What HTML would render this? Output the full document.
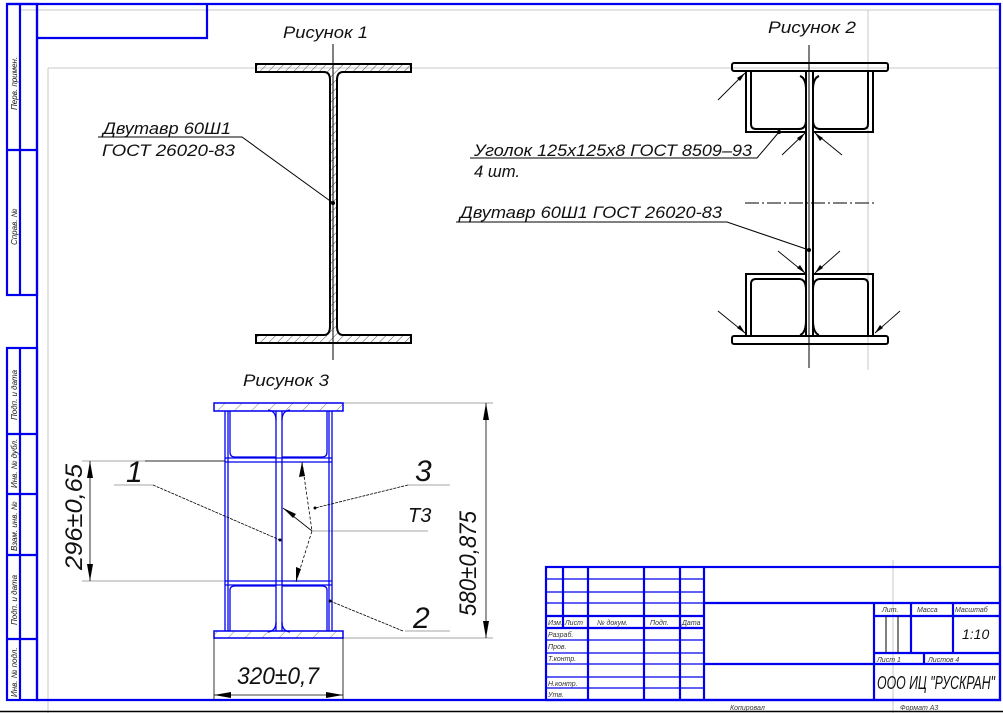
<!DOCTYPE html>
<html><head><meta charset="utf-8"><style>
html,body{margin:0;padding:0;background:#fff;}
svg{display:block;}
text{font-family:"Liberation Sans",sans-serif;font-style:italic;fill:#111;}
.t{font-size:7px;fill:#333;}
</style></head><body>
<svg width="1003" height="713" viewBox="0 0 1003 713" xmlns="http://www.w3.org/2000/svg">
<defs>
<pattern id="h" width="6" height="6" patternUnits="userSpaceOnUse" patternTransform="rotate(45)">
<line x1="0" y1="0" x2="0" y2="6" stroke="#222" stroke-width="0.8"/></pattern>
<pattern id="hb" width="12" height="12" patternUnits="userSpaceOnUse" patternTransform="rotate(45)">
<line x1="0" y1="0" x2="0" y2="12" stroke="#444" stroke-width="0.7"/></pattern>
</defs>
<!-- gray thin frames -->
<g stroke="#c8c8c8" stroke-width="1" fill="none">
<line x1="20" y1="10" x2="1000" y2="10"/>
<line x1="48" y1="68" x2="1000" y2="68"/>
<line x1="48" y1="68" x2="48" y2="713"/>
<line x1="868" y1="10" x2="868" y2="370"/>
<line x1="893" y1="560" x2="893" y2="713"/>
</g>
<line x1="0" y1="711.5" x2="1003" y2="711.5" stroke="#000" stroke-width="1.5"/>
<!-- blue frame -->
<g stroke="#0000ee" stroke-width="2.2" fill="none">
<polyline points="7,4 1000,4 1000,700 37,700 37,4"/>
<polyline points="37,38 207,38 207,4"/>
<rect x="7" y="4" width="30" height="291"/>
<line x1="20" y1="4" x2="20" y2="295"/>
<line x1="7" y1="150" x2="37" y2="150"/>
<rect x="7" y="348" width="30" height="352"/>
<line x1="20" y1="348" x2="20" y2="700"/>
<line x1="7" y1="434" x2="37" y2="434"/>
<line x1="7" y1="494" x2="37" y2="494"/>
<line x1="7" y1="555" x2="37" y2="555"/>
<line x1="7" y1="639" x2="37" y2="639"/>
<!-- title block -->
<rect x="546" y="567" width="454" height="133"/>
<line x1="704" y1="567" x2="704" y2="700"/>
<line x1="588" y1="567" x2="588" y2="700"/>
<line x1="644" y1="567" x2="644" y2="700"/>
<line x1="680" y1="567" x2="680" y2="700"/>
<line x1="563" y1="567" x2="563" y2="628"/>
<line x1="546" y1="616" x2="704" y2="616"/>
<line x1="546" y1="628" x2="704" y2="628"/>
<line x1="704" y1="603" x2="1000" y2="603"/>
<line x1="704" y1="664" x2="1000" y2="664"/>
<line x1="874" y1="603" x2="874" y2="700"/>
<line x1="874" y1="616" x2="1000" y2="616"/>
<line x1="874" y1="653" x2="1000" y2="653"/>
<line x1="911" y1="603" x2="911" y2="653"/>
<line x1="953" y1="603" x2="953" y2="653"/>
<line x1="924" y1="653" x2="924" y2="664"/>
</g>
<g stroke="#0000ee" stroke-width="1.2">
<line x1="546" y1="579" x2="704" y2="579"/>
<line x1="546" y1="592" x2="704" y2="592"/>
<line x1="546" y1="603" x2="704" y2="603"/>
<line x1="546" y1="640" x2="704" y2="640"/>
<line x1="546" y1="653" x2="704" y2="653"/>
<line x1="546" y1="664" x2="704" y2="664"/>
<line x1="546" y1="677" x2="704" y2="677"/>
<line x1="546" y1="688" x2="704" y2="688"/>
</g>
<g stroke="#000" stroke-width="1"><line x1="886" y1="616" x2="886" y2="653"/><line x1="898" y1="616" x2="898" y2="653"/></g>
<g class="t">
<text class="t" x="548" y="625">Изм. Лист</text><text class="t" x="597" y="625">№ докум.</text><text class="t" x="650" y="625">Подп.</text><text class="t" x="682" y="625">Дата</text>
<text class="t" x="548" y="637">Разраб.</text><text class="t" x="548" y="649">Пров.</text><text class="t" x="548" y="661">Т.контр.</text>
<text class="t" x="548" y="686">Н.контр.</text><text class="t" x="548" y="697">Утв.</text>
<text class="t" x="882" y="612">Лит.</text><text class="t" x="917" y="612">Масса</text><text class="t" x="955" y="612">Масштаб</text>
<text class="t" x="877" y="662">Лист 1</text><text class="t" x="928" y="662">Листов 4</text>
<text class="t" x="730" y="710">Копировал</text><text class="t" x="900" y="710">Формат А3</text>
</g>
<text x="962" y="639" font-size="14">1:10</text>
<text x="877" y="689" font-size="18" textLength="118" lengthAdjust="spacingAndGlyphs">ООО ИЦ "РУСКРАН"</text>
<g font-size="8" fill="#333">
<text transform="translate(17,110) rotate(-90)">Перв. примен.</text>
<text transform="translate(17,245) rotate(-90)">Справ. №</text>
<text transform="translate(17,420) rotate(-90)">Подп. и дата</text>
<text transform="translate(17,488) rotate(-90)">Инв. № дубл.</text>
<text transform="translate(17,551) rotate(-90)">Взам. инв. №</text>
<text transform="translate(17,625) rotate(-90)">Подп. и дата</text>
<text transform="translate(17,697) rotate(-90)">Инв. № подл.</text>
</g>

<!-- Figure 1 -->
<text x="283" y="38" font-size="17" textLength="85" lengthAdjust="spacingAndGlyphs">Рисунок 1</text>
<line x1="333" y1="44" x2="333" y2="360" stroke="#000" stroke-width="1"/>
<path d="M256,64 H411 V72 H343 Q337,72 337,80 V326 Q337,335 343,335 H411 V343 H256 V335 H324 Q330,335 330,326 V80 Q330,72 324,72 H256 Z" fill="url(#h)" stroke="#000" stroke-width="2"/>
<text x="103" y="134" font-size="17" textLength="128" lengthAdjust="spacingAndGlyphs">Двутавр 60Ш1</text>
<text x="102" y="156" font-size="17" textLength="133" lengthAdjust="spacingAndGlyphs">ГОСТ 26020-83</text>
<polyline points="98,137 242,137 333,203" fill="none" stroke="#000" stroke-width="1"/>
<circle cx="333" cy="203" r="2"/>

<!-- Figure 2 -->
<text x="768" y="33" font-size="17" textLength="88" lengthAdjust="spacingAndGlyphs">Рисунок 2</text>
<line x1="809" y1="45" x2="809" y2="368" stroke="#000" stroke-width="1"/>
<line x1="745" y1="203" x2="876" y2="203" stroke="#000" stroke-width="1" stroke-dasharray="14,3,2,3"/>
<g fill="none" stroke="#000" stroke-width="2">
<rect x="732" y="63" width="156" height="8" rx="2"/>
<rect x="732" y="336" width="156" height="8" rx="2"/>
<line x1="806" y1="71" x2="806" y2="336"/><line x1="813" y1="71" x2="813" y2="336"/>
<path d="M746,71 V132 H806 M873,71 V132 H813"/>
<path d="M751,71 V124 Q751,129 756,129 H799 M868,71 V124 Q868,129 863,129 H820"/>
<path d="M746,336 V274 H806 M873,336 V274 H813"/>
<path d="M751,336 V284 Q751,279 756,279 H799 M868,336 V284 Q868,279 863,279 H820"/>
<path d="M799,129 Q806,129 806,120 V90 Q806,78 800,76 M820,129 Q813,129 813,120 V90 Q813,78 819,76"/>
<path d="M799,279 Q806,279 806,290 V320 Q806,333 800,335 M820,279 Q813,279 813,290 V320 Q813,333 819,335"/>
</g>
<g stroke="#000" stroke-width="0.9" fill="none">
<line x1="718" y1="100" x2="745" y2="73"/>
<line x1="782" y1="155" x2="805" y2="133"/>
<line x1="842" y1="155" x2="815" y2="133"/>
<line x1="778" y1="251" x2="805" y2="273"/>
<line x1="840" y1="251" x2="815" y2="273"/>
<line x1="718" y1="311" x2="745" y2="333"/>
<line x1="900" y1="311" x2="875" y2="333"/>
</g>
<g fill="#000">
<polygon points="745,73 737,78 740,81"/><polygon points="805,133 797,138 800,141"/><polygon points="815,133 820,141 823,138"/>
<polygon points="805,273 797,268 800,265"/><polygon points="815,273 820,265 823,268"/>
<polygon points="745,333 737,328 740,325"/><polygon points="875,333 880,325 883,328"/>
</g>
<text x="474" y="156" font-size="17" textLength="278" lengthAdjust="spacingAndGlyphs">Уголок 125х125х8 ГОСТ 8509–93</text>
<text x="474" y="177" font-size="17" textLength="46" lengthAdjust="spacingAndGlyphs">4 шт.</text>
<polyline points="470,158 757,158 779,132" fill="none" stroke="#000" stroke-width="1"/>
<circle cx="779" cy="132" r="2"/>
<text x="460" y="218" font-size="17" textLength="262" lengthAdjust="spacingAndGlyphs">Двутавр 60Ш1 ГОСТ 26020-83</text>
<polyline points="456,222 727,222 809,250" fill="none" stroke="#000" stroke-width="1"/>
<circle cx="809" cy="250" r="2"/>

<!-- Figure 3 -->
<text x="243" y="386" font-size="17" textLength="86" lengthAdjust="spacingAndGlyphs">Рисунок 3</text>
<g stroke="#888" stroke-width="0.8" fill="none">
<line x1="343" y1="403" x2="493" y2="403"/>
<line x1="343" y1="638" x2="493" y2="638"/>
<line x1="82" y1="461" x2="225" y2="461"/>
<line x1="82" y1="581" x2="225" y2="581"/>
<line x1="114" y1="485" x2="153" y2="485"/>
<line x1="408" y1="485" x2="450" y2="485"/>
<line x1="312" y1="531" x2="428" y2="531"/>
<line x1="405" y1="631" x2="450" y2="631"/>
</g>
<rect x="214" y="403" width="129" height="8" fill="url(#hb)" stroke="#0000ee" stroke-width="1.5"/>
<rect x="214" y="631" width="129" height="7" fill="url(#hb)" stroke="#0000ee" stroke-width="1.5"/>
<g fill="none" stroke="#0000ee" stroke-width="1.3">
<line x1="225" y1="411" x2="225" y2="631"/><line x1="228" y1="411" x2="228" y2="631"/>
<line x1="329" y1="411" x2="329" y2="631"/><line x1="332" y1="411" x2="332" y2="631"/>
<line x1="276" y1="411" x2="276" y2="631"/><line x1="282" y1="411" x2="282" y2="631"/>
<line x1="225" y1="458" x2="332" y2="458"/><line x1="225" y1="462" x2="332" y2="462"/>
<line x1="225" y1="581" x2="332" y2="581"/><line x1="225" y1="585" x2="332" y2="585"/>
<path d="M230,411 V452 Q230,457 235,457 H276 M327,411 V452 Q327,457 322,457 H282"/>
<path d="M230,631 V590 Q230,586 235,586 H276 M327,631 V590 Q327,586 322,586 H282"/>
<path d="M276,420 Q276,411 268,410 M282,420 Q282,411 290,410 M276,622 Q276,631 268,632 M282,622 Q282,631 290,632"/>
</g>
<g stroke="#000" stroke-width="0.8" fill="none">
<line x1="90" y1="461" x2="90" y2="581"/>
<line x1="486" y1="403" x2="486" y2="638"/>
<line x1="214" y1="638" x2="214" y2="700"/><line x1="343" y1="638" x2="343" y2="700"/>
<line x1="214" y1="695" x2="343" y2="695"/>
<line x1="145" y1="461" x2="225" y2="461"/>
<line x1="153" y1="485" x2="280" y2="540" stroke-dasharray="3,1"/>
<line x1="408" y1="485" x2="315" y2="508" stroke-dasharray="3,1"/>
<line x1="403" y1="631" x2="330" y2="601" stroke-dasharray="3,1"/>
<polyline points="302,462 312,531 296,582" stroke-dasharray="3,2"/>
<line x1="312" y1="531" x2="283" y2="508"/>
</g>
<g fill="#000">
<polygon points="90,461 87,478 93,478"/><polygon points="90,581 87,564 93,564"/>
<polygon points="486,403 483,420 489,420"/><polygon points="486,638 483,621 489,621"/>
<polygon points="214,695 231,692 231,698"/><polygon points="343,695 326,692 326,698"/>
<polygon points="302,462 299,477 305,476"/><polygon points="296,582 296,567 301,569"/>
<polygon points="283,508 296,514 293,518"/>
<circle cx="280" cy="540" r="1.5"/><circle cx="315" cy="508" r="1.5"/><circle cx="330" cy="601" r="1.5"/>
</g>
<text x="126" y="482" font-size="30">1</text>
<text x="415" y="481" font-size="30">3</text>
<text x="408" y="522" font-size="20">Т3</text>
<text x="413" y="628" font-size="30">2</text>
<text transform="translate(82,570) rotate(-90)" font-size="24" textLength="106" lengthAdjust="spacingAndGlyphs">296±0,65</text>
<text transform="translate(476,616) rotate(-90)" font-size="24" textLength="105" lengthAdjust="spacingAndGlyphs">580±0,875</text>
<text x="237" y="684" font-size="24" textLength="82" lengthAdjust="spacingAndGlyphs">320±0,7</text>
</svg>
</body></html>
